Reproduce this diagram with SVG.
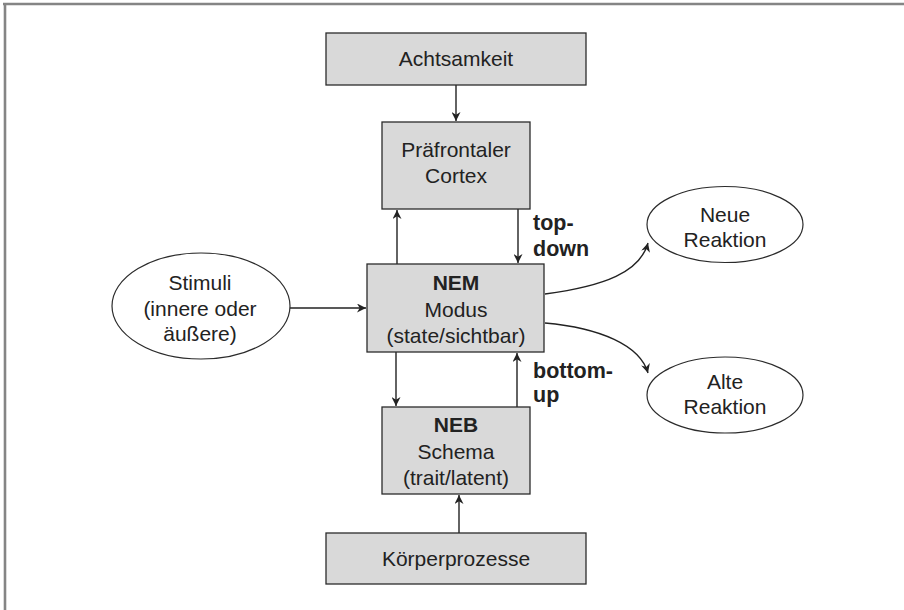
<svg xmlns="http://www.w3.org/2000/svg" width="904" height="610" viewBox="0 0 904 610">
<style>
.box{fill:#d9d9d9;stroke:#2b2b2b;stroke-width:1.3}
.ell{fill:#ffffff;stroke:#2b2b2b;stroke-width:1.2}
.t{font-family:"Liberation Sans",Arial,sans-serif;font-size:21px;fill:#222;text-anchor:middle}
.b{font-weight:bold}
.l{font-family:"Liberation Sans",Arial,sans-serif;font-size:21.5px;font-weight:bold;fill:#222}
.c{fill:none;stroke:#222;stroke-width:1.4;marker-end:url(#ah)}
</style>
<defs>
<marker id="ah" viewBox="0 0 10 10" refX="10" refY="5" markerWidth="9" markerHeight="9" markerUnits="userSpaceOnUse" orient="auto">
<path d="M0,0 L10,5 L0,10 L3,5 Z" fill="#222"/>
</marker>
</defs>
<rect x="0" y="0" width="904" height="610" fill="#ffffff"/>
<g id="frame">
<line x1="3" y1="4" x2="904" y2="4" stroke="#858585" stroke-width="2.6"/>
<line x1="5" y1="3" x2="5" y2="610" stroke="#858585" stroke-width="2.6"/>
</g>
<g id="connectors">
<path class="c" d="M456,85 L456,121"/>
<path class="c" d="M397,264 L397,210"/>
<path class="c" d="M518,209 L518,263"/>
<path class="c" d="M290,308 L366,308"/>
<path class="c" d="M396,352 L396,406"/>
<path class="c" d="M517,407 L517,353"/>
<path class="c" d="M459,533 L459,495"/>
<path class="c" d="M545,294 C605,286 640,272 648,243"/>
<path class="c" d="M545,323 C600,328 640,345 648,373"/>
<text class="l" x="533" y="230">top-</text>
<text class="l" x="533" y="256">down</text>
<text class="l" x="533" y="378">bottom-</text>
<text class="l" x="533" y="402">up</text>
</g>
<g id="achtsamkeit">
<rect class="box" x="326" y="33" width="260" height="52"/>
<text class="t" x="456" y="66">Achtsamkeit</text>
</g>
<g id="praefrontal">
<rect class="box" x="382" y="122" width="148" height="87"/>
<text class="t" x="456" y="157">Präfrontaler</text>
<text class="t" x="456" y="183">Cortex</text>
</g>
<g id="nem">
<rect class="box" x="367" y="264" width="177" height="88"/>
<text class="t b" x="456" y="290">NEM</text>
<text class="t" x="456" y="317">Modus</text>
<text class="t" x="456" y="343">(state/sichtbar)</text>
</g>
<g id="neb">
<rect class="box" x="382" y="407" width="148" height="87"/>
<text class="t b" x="456" y="432">NEB</text>
<text class="t" x="456" y="459">Schema</text>
<text class="t" x="456" y="485">(trait/latent)</text>
</g>
<g id="koerper">
<rect class="box" x="326" y="533" width="260" height="51"/>
<text class="t" x="456" y="566">Körperprozesse</text>
</g>
<g id="stimuli">
<ellipse class="ell" cx="201" cy="306" rx="89" ry="53"/>
<text class="t" x="200" y="290">Stimuli</text>
<text class="t" x="200" y="316">(innere oder</text>
<text class="t" x="200" y="341">äußere)</text>
</g>
<g id="neue">
<ellipse class="ell" cx="725" cy="224.5" rx="78" ry="38"/>
<text class="t" x="725" y="222">Neue</text>
<text class="t" x="725" y="247">Reaktion</text>
</g>
<g id="alte">
<ellipse class="ell" cx="725" cy="395" rx="78" ry="38"/>
<text class="t" x="725" y="389">Alte</text>
<text class="t" x="725" y="414">Reaktion</text>
</g>
</svg>
